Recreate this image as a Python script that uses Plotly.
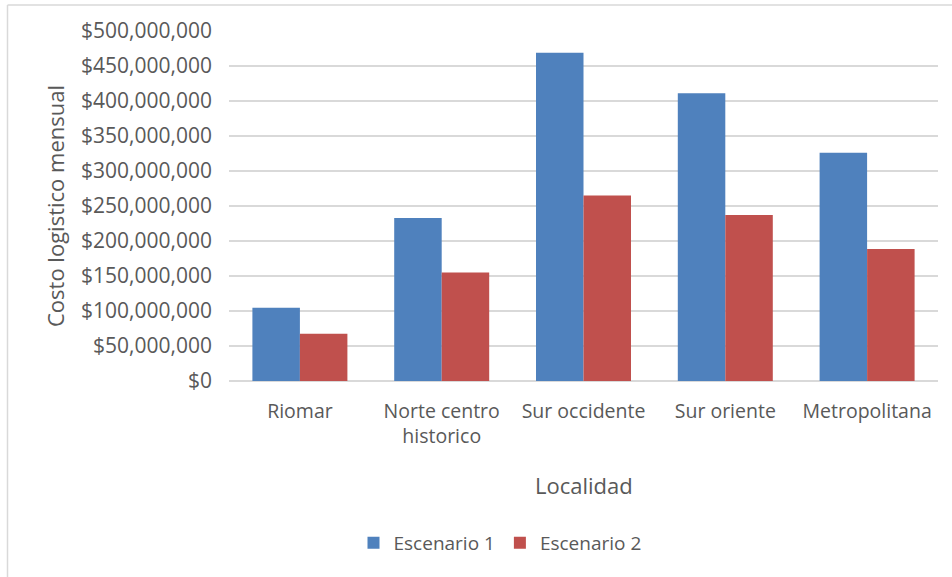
import plotly.graph_objects as go

categories = ["Riomar", "Norte centro<br>historico", "Sur occidente", "Sur oriente", "Metropolitana"]
escenario_1 = [104500000, 233000000, 469000000, 411000000, 326000000]
escenario_2 = [67500000, 155000000, 265000000, 237000000, 188500000]
series_names = ["Escenario 1", "Escenario 2"]

TXT = "#595959"
FONT = "Open Sans, Noto Sans, sans-serif"

fig = go.Figure()
fig.add_trace(go.Bar(x=categories, y=escenario_1, name=series_names[0],
                     marker=dict(color="#4F81BD", line=dict(width=0))))
fig.add_trace(go.Bar(x=categories, y=escenario_2, name=series_names[1],
                     marker=dict(color="#C0504D", line=dict(width=0))))

L, R, T, B = 229, 14, 31, 196
W, H = 952, 577
pw, ph = W - L - R, H - T - B

def px(x):
    return (x - L) / pw

def py(y):
    return (H - B - y) / ph

fig.update_layout(
    width=W, height=H,
    margin=dict(l=L, r=R, t=T, b=B, pad=0),
    paper_bgcolor="white", plot_bgcolor="white",
    barmode="group", bargap=0.33, bargroupgap=0,
    font=dict(family=FONT, color=TXT, size=20),
    showlegend=True,
    legend=dict(orientation="h", x=px(500), xanchor="center", y=py(543), yanchor="middle",
                font=dict(size=19, color=TXT), traceorder="normal", itemwidth=30,
                bgcolor="rgba(0,0,0,0)"),
    xaxis=dict(showgrid=False, showline=False, ticks="", tickfont=dict(size=19.5, color=TXT),
               ticklabelstandoff=16),
    yaxis=dict(range=[0, 500000000], dtick=50000000, tickprefix="$", tickformat=",d",
               showgrid=True, gridcolor="#d9d9d9", gridwidth=1.5, zeroline=True,
               zerolinecolor="#d9d9d9", zerolinewidth=1.5, showline=False, ticks="",
               tickfont=dict(size=21, color=TXT), ticklabelstandoff=16),
    annotations=[
        dict(text="Localidad", xref="paper", yref="paper", x=px(584), y=py(485),
             xanchor="center", yanchor="middle", showarrow=False,
             font=dict(size=22, color=TXT, family=FONT)),
        dict(text="Costo logistico mensual", xref="paper", yref="paper", x=px(55), y=py(206),
             xanchor="center", yanchor="middle", showarrow=False, textangle=-90,
             font=dict(size=22, color=TXT, family=FONT)),
    ],
    shapes=[
        dict(type="line", xref="paper", yref="paper", x0=px(7.5), x1=px(952), y0=py(5), y1=py(5),
             line=dict(color="#d9d9d9", width=1.5)),
        dict(type="line", xref="paper", yref="paper", x0=px(7.5), x1=px(7.5), y0=py(5), y1=py(577),
             line=dict(color="#d9d9d9", width=1.5)),
    ],
)

fig.write_html("out.html", config={"displayModeBar": False},
               post_script="document.body.style.margin='0';")
